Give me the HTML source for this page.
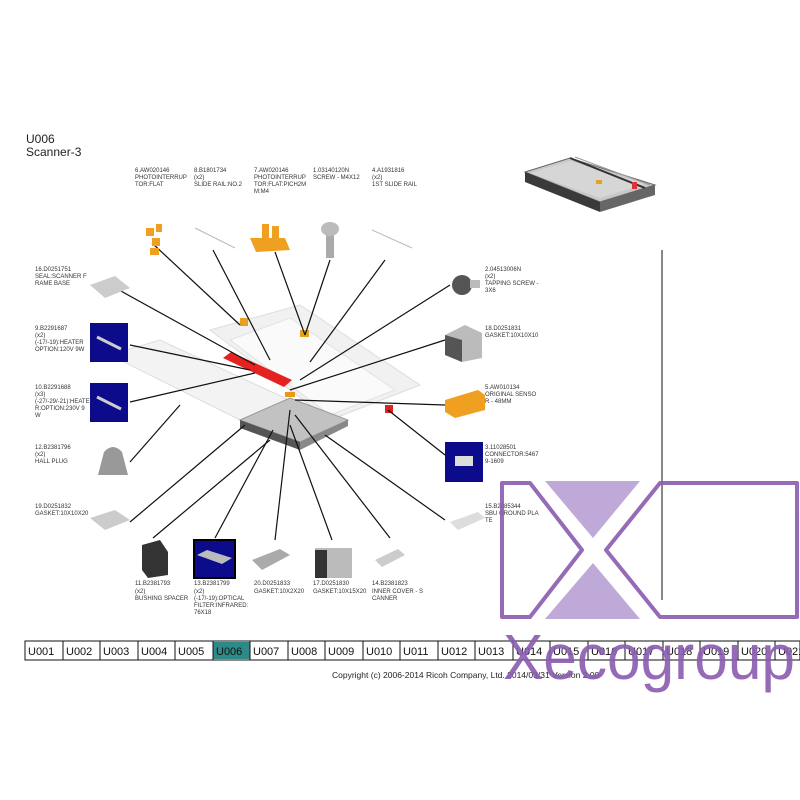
<!DOCTYPE html>
<html><head><meta charset="utf-8"><style>
body{margin:0;background:#fff}
svg{display:block}
text{font-family:"Liberation Sans",sans-serif}
.l{font-size:6px;fill:#333}
</style></head><body>
<svg width="800" height="800" viewBox="0 0 800 800" xmlns="http://www.w3.org/2000/svg">
<text x="26" y="143" font-size="12" fill="#222">U006</text>
<text x="26" y="156" font-size="12" fill="#222">Scanner-3</text>

<!-- top-right thumbnail -->
<polygon points="525,172 570,158 655,185 600,202" fill="#c8c8c8" stroke="#666"/>
<polygon points="530,173 570,161 645,184 600,198" fill="#d6d6d6"/>
<polygon points="525,172 600,202 600,212 525,182" fill="#3a3a3a"/>
<polygon points="600,202 655,185 655,195 600,212" fill="#666"/>
<line x1="570" y1="158" x2="645" y2="188" stroke="#333" stroke-width="2"/>
<line x1="575" y1="157" x2="650" y2="185" stroke="#999" stroke-width="1"/>
<rect x="596" y="180" width="6" height="4" fill="#e8a020"/>
<rect x="632" y="182" width="5" height="7" fill="#d33"/>

<!-- assembly -->
<polygon points="110,355 160,340 300,405 250,425" fill="#f3f3f3" stroke="#ddd"/>
<polygon points="210,330 300,305 420,385 330,420" fill="#f1f1f1" stroke="#ddd"/>
<polygon points="230,340 290,318 395,390 330,415" fill="#fafafa" stroke="#e2e2e2"/>
<polygon points="223,358 231,352 292,380 284,387" fill="#e52222"/>
<polygon points="240,420 290,398 348,420 300,442" fill="#c2c2c2" stroke="#999"/>
<polygon points="240,420 300,442 300,450 240,428" fill="#555"/>
<polygon points="300,442 348,420 348,426 300,450" fill="#888"/>
<rect x="285" y="392" width="10" height="5" fill="#e89a10"/>
<rect x="240" y="318" width="8" height="8" fill="#e8a020"/>
<rect x="300" y="330" width="9" height="7" fill="#e8a020"/>
<rect x="385" y="405" width="8" height="8" fill="#d22"/>

<!-- leaders -->
<g stroke="#111" stroke-width="1.2">
<line x1="152" y1="243" x2="240" y2="325"/>
<line x1="213" y1="250" x2="270" y2="360"/>
<line x1="275" y1="252" x2="305" y2="335"/>
<line x1="330" y1="260" x2="305" y2="335"/>
<line x1="385" y1="260" x2="310" y2="362"/>
<line x1="110" y1="285" x2="255" y2="365"/>
<line x1="450" y1="285" x2="300" y2="380"/>
<line x1="130" y1="345" x2="250" y2="370"/>
<line x1="445" y1="340" x2="290" y2="390"/>
<line x1="130" y1="402" x2="255" y2="373"/>
<line x1="445" y1="405" x2="295" y2="400"/>
<line x1="130" y1="462" x2="180" y2="405"/>
<line x1="445" y1="455" x2="388" y2="410"/>
<line x1="130" y1="522" x2="245" y2="425"/>
<line x1="153" y1="538" x2="270" y2="440"/>
<line x1="215" y1="538" x2="273" y2="430"/>
<line x1="275" y1="540" x2="290" y2="410"/>
<line x1="332" y1="540" x2="290" y2="425"/>
<line x1="390" y1="538" x2="295" y2="415"/>
<line x1="445" y1="520" x2="325" y2="435"/>
</g>

<!-- icons -->
<g fill="#f0a020"><rect x="146" y="228" width="8" height="8"/><rect x="152" y="238" width="8" height="8"/><rect x="150" y="248" width="9" height="7"/><rect x="156" y="224" width="6" height="8"/></g>
<line x1="195" y1="228" x2="235" y2="248" stroke="#bbb"/>
<polygon points="250,238 285,238 290,250 256,252" fill="#f0a020"/><rect x="262" y="224" width="7" height="16" fill="#f0a020"/><rect x="272" y="226" width="7" height="14" fill="#f0a020"/>
<rect x="326" y="230" width="8" height="28" fill="#aaa"/><ellipse cx="330" cy="229" rx="9" ry="7" fill="#bbb"/>
<line x1="372" y1="230" x2="412" y2="248" stroke="#bbb"/>
<polygon points="90,285 115,276 130,288 105,298" fill="#ccc"/>
<rect x="90" y="323" width="38" height="39" fill="#0b0b8c"/><line x1="97" y1="337" x2="121" y2="349" stroke="#ccc" stroke-width="3"/>
<rect x="90" y="383" width="38" height="39" fill="#0b0b8c"/><line x1="97" y1="397" x2="121" y2="409" stroke="#ccc" stroke-width="3"/>
<path d="M98,475 L104,452 Q113,442 122,452 L128,475 Z" fill="#999"/>
<polygon points="90,518 115,510 130,520 105,530" fill="#ccc"/>
<circle cx="462" cy="285" r="10" fill="#555"/><rect x="470" y="280" width="10" height="8" fill="#bbb"/>
<polygon points="445,335 465,325 482,333 482,358 462,362 445,355" fill="#bbb"/><polygon points="445,335 462,340 462,362 445,355" fill="#555"/>
<polygon points="445,400 478,390 485,395 485,410 455,418 445,412" fill="#f0a020"/>
<rect x="445" y="442" width="38" height="40" fill="#0b0b8c"/><rect x="455" y="456" width="18" height="10" fill="#ddd"/>
<polygon points="450,522 478,512 485,518 458,530" fill="#ddd"/>
<path d="M142,545 L160,540 L168,552 L168,575 L148,578 L142,570 Z" fill="#333"/>
<rect x="194" y="540" width="41" height="38" fill="#0b0b8c" stroke="#000" stroke-width="2"/><polygon points="197,555 207,550 232,558 222,564" fill="#bbb"/>
<polygon points="252,560 280,549 290,555 262,570" fill="#aaa"/>
<rect x="315" y="548" width="37" height="30" fill="#bbb"/><rect x="315" y="550" width="12" height="28" fill="#333"/>
<polygon points="375,560 398,549 405,555 382,567" fill="#ccc"/>

<!-- labels -->
<g class="l">
<text x="135" y="172">6.AW020146</text><text x="135" y="179">PHOTOINTERRUP</text><text x="135" y="186">TOR:FLAT</text>
<text x="194" y="172">8.B1801734</text><text x="194" y="179">(x2)</text><text x="194" y="186">SLIDE RAIL:NO.2</text>
<text x="254" y="172">7.AW020146</text><text x="254" y="179">PHOTOINTERRUP</text><text x="254" y="186">TOR:FLAT:PICH2M</text><text x="254" y="193">M:M4</text>
<text x="313" y="172">1.03140120N</text><text x="313" y="179">SCREW - M4X12</text>
<text x="372" y="172">4.A1931816</text><text x="372" y="179">(x2)</text><text x="372" y="186">1ST SLIDE RAIL</text>
<text x="35" y="271">16.D0251751</text><text x="35" y="278">SEAL:SCANNER F</text><text x="35" y="285">RAME BASE</text>
<text x="35" y="330">9.B2291687</text><text x="35" y="337">(x2)</text><text x="35" y="344">(-17/-19):HEATER</text><text x="35" y="351">OPTION:120V 9W</text>
<text x="35" y="389">10.B2291688</text><text x="35" y="396">(x3)</text><text x="35" y="403">(-27/-29/-21):HEATE</text><text x="35" y="410">R:OPTION:230V 9</text><text x="35" y="417">W</text>
<text x="35" y="449">12.B2381796</text><text x="35" y="456">(x2)</text><text x="35" y="463">HALL PLUG</text>
<text x="35" y="508">19.D0251832</text><text x="35" y="515">GASKET:10X10X20</text>
<text x="485" y="271">2.04513006N</text><text x="485" y="278">(x2)</text><text x="485" y="285">TAPPING SCREW -</text><text x="485" y="292">3X6</text>
<text x="485" y="330">18.D0251831</text><text x="485" y="337">GASKET:10X10X10</text>
<text x="485" y="389">5.AW010134</text><text x="485" y="396">ORIGINAL SENSO</text><text x="485" y="403">R - 48MM</text>
<text x="485" y="449">3.11028501</text><text x="485" y="456">CONNECTOR:5467</text><text x="485" y="463">9-1609</text>
<text x="485" y="508">15.B2385344</text><text x="485" y="515">SBU GROUND PLA</text><text x="485" y="522">TE</text>
<text x="135" y="585">11.B2381793</text><text x="135" y="593">(x2)</text><text x="135" y="600">BUSHING SPACER</text>
<text x="194" y="585">13.B2381799</text><text x="194" y="593">(x2)</text><text x="194" y="600">(-17/-19):OPTICAL</text><text x="194" y="607">FILTER:INFRARED:</text><text x="194" y="614">76X18</text>
<text x="254" y="585">20.D0251833</text><text x="254" y="593">GASKET:10X2X20</text>
<text x="313" y="585">17.D0251830</text><text x="313" y="593">GASKET:10X15X20</text>
<text x="372" y="585">14.B2381823</text><text x="372" y="593">INNER COVER - S</text><text x="372" y="600">CANNER</text>
</g>

<line x1="662" y1="250" x2="662" y2="600" stroke="#111" stroke-width="1"/>

<!-- tab bar -->
<g font-size="11" fill="#111">
<rect x="25" y="641" width="775" height="19" fill="#fff" stroke="#111"/>
<rect x="213" y="642" width="37" height="17" fill="#2e8a88"/>
<g stroke="#111" stroke-width="1">
<line x1="63" y1="641" x2="63" y2="660"/><line x1="100" y1="641" x2="100" y2="660"/><line x1="138" y1="641" x2="138" y2="660"/><line x1="175" y1="641" x2="175" y2="660"/><line x1="213" y1="641" x2="213" y2="660"/><line x1="250" y1="641" x2="250" y2="660"/><line x1="288" y1="641" x2="288" y2="660"/><line x1="325" y1="641" x2="325" y2="660"/><line x1="363" y1="641" x2="363" y2="660"/><line x1="400" y1="641" x2="400" y2="660"/><line x1="438" y1="641" x2="438" y2="660"/><line x1="475" y1="641" x2="475" y2="660"/><line x1="513" y1="641" x2="513" y2="660"/><line x1="550" y1="641" x2="550" y2="660"/><line x1="588" y1="641" x2="588" y2="660"/><line x1="625" y1="641" x2="625" y2="660"/><line x1="663" y1="641" x2="663" y2="660"/><line x1="700" y1="641" x2="700" y2="660"/><line x1="738" y1="641" x2="738" y2="660"/><line x1="775" y1="641" x2="775" y2="660"/>
</g>
<text x="28" y="655">U001</text><text x="66" y="655">U002</text><text x="103" y="655">U003</text><text x="141" y="655">U004</text><text x="178" y="655">U005</text><text x="216" y="655">U006</text><text x="253" y="655">U007</text><text x="291" y="655">U008</text><text x="328" y="655">U009</text><text x="366" y="655">U010</text><text x="403" y="655">U011</text><text x="441" y="655">U012</text><text x="478" y="655">U013</text><text x="516" y="655">U014</text><text x="553" y="655">U015</text><text x="591" y="655">U016</text><text x="628" y="655">U017</text><text x="666" y="655">U018</text><text x="703" y="655">U019</text><text x="741" y="655">U020</text><text x="778" y="655">U021</text>
</g>
<text x="332" y="678" font-size="8.5" fill="#222">Copyright (c) 2006-2014 Ricoh Company, Ltd.    2014/03/31 Version 2.00</text>

<!-- watermark -->
<g opacity="0.9">
<polygon points="545,481 640,481 593,538" fill="#b9a0d5"/>
<polygon points="545,619 640,619 593,563" fill="#b9a0d5"/>
<path d="M502,483 L530,483 L582,550 L530,617 L502,617 Z" fill="none" stroke="#8a5cb0" stroke-width="4" stroke-linejoin="round"/>
<path d="M606,550 L660,483 L797,483 L797,617 L660,617 Z" fill="none" stroke="#8a5cb0" stroke-width="4" stroke-linejoin="round"/>
<text x="503" y="679" font-size="64" fill="#8a5cb0" textLength="292" lengthAdjust="spacingAndGlyphs">Xecogroup</text>
</g>
</svg>
</body></html>
